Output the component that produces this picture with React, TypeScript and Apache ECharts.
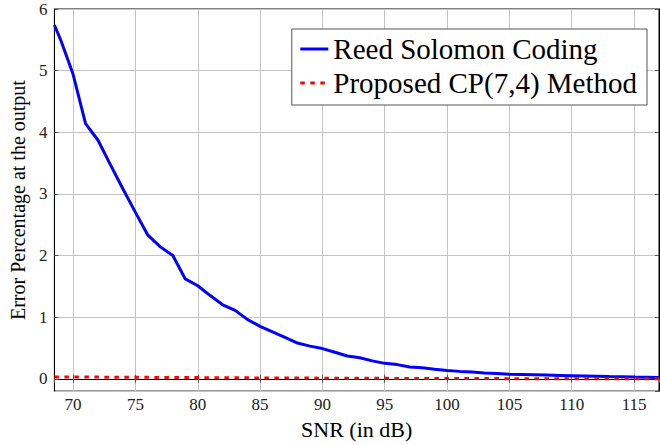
import React, { useEffect, useRef } from "react";
import * as echarts from "echarts";

const snr = [68.5, 69, 70, 71, 72, 73, 74, 75, 76, 77, 78, 79, 80, 81, 82, 83, 84, 85, 86, 87, 88, 89, 90, 91, 92, 93, 94, 95, 96, 97, 98, 99, 100, 101, 102, 103, 104, 105, 106, 107, 108, 109, 110, 111, 112, 113, 114, 115, 116, 117];
const reedSolomon = [5.74, 5.5, 4.94, 4.14, 3.87, 3.47, 3.08, 2.7, 2.33, 2.14, 2.0, 1.62, 1.51, 1.35, 1.2, 1.11, 0.96, 0.85, 0.76, 0.67, 0.58, 0.53, 0.49, 0.43, 0.37, 0.34, 0.29, 0.25, 0.23, 0.19, 0.18, 0.155, 0.135, 0.12, 0.11, 0.095, 0.085, 0.075, 0.07, 0.065, 0.06, 0.055, 0.05, 0.045, 0.04, 0.035, 0.032, 0.028, 0.025, 0.02];
const proposed = [0.03, 0.03, 0.029, 0.028, 0.027, 0.026, 0.025, 0.024, 0.023, 0.022, 0.021, 0.02, 0.019, 0.018, 0.017, 0.016, 0.015, 0.014, 0.013, 0.012, 0.011, 0.011, 0.01, 0.009, 0.009, 0.008, 0.007, 0.007, 0.006, 0.006, 0.005, 0.005, 0.004, 0.004, 0.003, 0.003, 0.003, 0.002, 0.002, 0.002, 0.002, 0.001, 0.001, 0.001, 0.001, 0.001, 0.0, 0.0, 0.0, 0.0];
const seriesNames = ["Reed Solomon Coding", "Proposed CP(7,4) Method"];
const xName = "SNR (in dB)";
const yName = "Error Percentage at the output";

const FONT = "'Liberation Serif', 'DejaVu Serif', serif";

export default function App() {
  const ref = useRef<HTMLDivElement>(null);
  useEffect(() => {
    if (!ref.current) return;
    const chart = echarts.init(ref.current, undefined, { renderer: "svg" });
    const xBase = {
      type: "value" as const,
      min: 68.5,
      max: 117,
      splitNumber: 10,
    };
    const yBase = {
      type: "value" as const,
      min: -0.2,
      max: 6,
      splitNumber: 6,
    };
    chart.setOption({
      animation: false,
      backgroundColor: "#ffffff",
      grid: {
        left: 54,
        right: 1,
        top: 9,
        bottom: 52,
        show: true,
        borderColor: "#000",
        borderWidth: 1,
        backgroundColor: "transparent",
      },
      legend: {
        right: 13,
        top: 29,
        orient: "vertical",
        backgroundColor: "#fff",
        borderColor: "#555",
        borderWidth: 1,
        padding: [5, 10, 7, 7],
        itemGap: 4,
        itemWidth: 28,
        itemHeight: 14,
        itemStyle: { opacity: 0 },
        lineStyle: { width: 3 },
        textStyle: {
          fontFamily: FONT,
          fontSize: 29,
          color: "#000",
          lineHeight: 30,
        },
        data: seriesNames,
      },
      xAxis: [
        {
          ...xBase,
          position: "bottom",
          name: xName,
          nameLocation: "middle",
          nameGap: 17,
          nameTextStyle: { fontFamily: FONT, fontSize: 22, color: "#000" },
          axisLine: { show: true, lineStyle: { color: "#000", width: 1 } },
          axisTick: { show: true, inside: true, length: 4, lineStyle: { color: "#555" } },
          axisLabel: {
            fontFamily: FONT,
            fontSize: 17,
            color: "#222",
            margin: 5,
            showMinLabel: false,
            showMaxLabel: false,
          },
          splitLine: { show: true, lineStyle: { color: "#c4c4c4", width: 1 } },
        },
        {
          ...xBase,
          position: "top",
          axisLine: { show: true, lineStyle: { color: "#000", width: 1 } },
          axisTick: { show: true, inside: true, length: 4, lineStyle: { color: "#555" } },
          axisLabel: { show: false },
          splitLine: { show: false },
        },
      ],
      yAxis: [
        {
          ...yBase,
          position: "left",
          name: yName,
          nameLocation: "middle",
          nameGap: 16,
          nameTextStyle: { fontFamily: FONT, fontSize: 20, color: "#000" },
          axisLine: { show: true, lineStyle: { color: "#000", width: 1 } },
          axisTick: { show: true, inside: true, length: 4, lineStyle: { color: "#555" } },
          axisLabel: {
            fontFamily: FONT,
            fontSize: 17,
            color: "#222",
            margin: 7,
            showMinLabel: false,
          },
          splitLine: { show: true, lineStyle: { color: "#c4c4c4", width: 1 } },
        },
        {
          ...yBase,
          position: "right",
          axisLine: { show: true, lineStyle: { color: "#000", width: 1 } },
          axisTick: { show: true, inside: true, length: 4, lineStyle: { color: "#555" } },
          axisLabel: { show: false },
          splitLine: { show: false },
        },
      ],
      series: [
        {
          name: seriesNames[0],
          type: "line",
          xAxisIndex: 0,
          yAxisIndex: 0,
          data: snr.map((x, i) => [x, reedSolomon[i]]),
          showSymbol: false,
          symbol: "none",
          color: "#0000ff",
          lineStyle: { color: "#0000ff", width: 3 },
          z: 3,
        },
        {
          name: seriesNames[1],
          type: "line",
          xAxisIndex: 0,
          yAxisIndex: 0,
          data: snr.map((x, i) => [x, proposed[i]]),
          showSymbol: false,
          symbol: "none",
          color: "#ff0000",
          lineStyle: { color: "#ff0000", width: 3, type: [4.5, 5.5] },
          z: 4,
        },
      ],
    });
    return () => chart.dispose();
  }, []);
  return (
    <div
      ref={ref}
      style={{ position: "fixed", left: 0, top: 0, width: 660, height: 445 }}
    />
  );
}
